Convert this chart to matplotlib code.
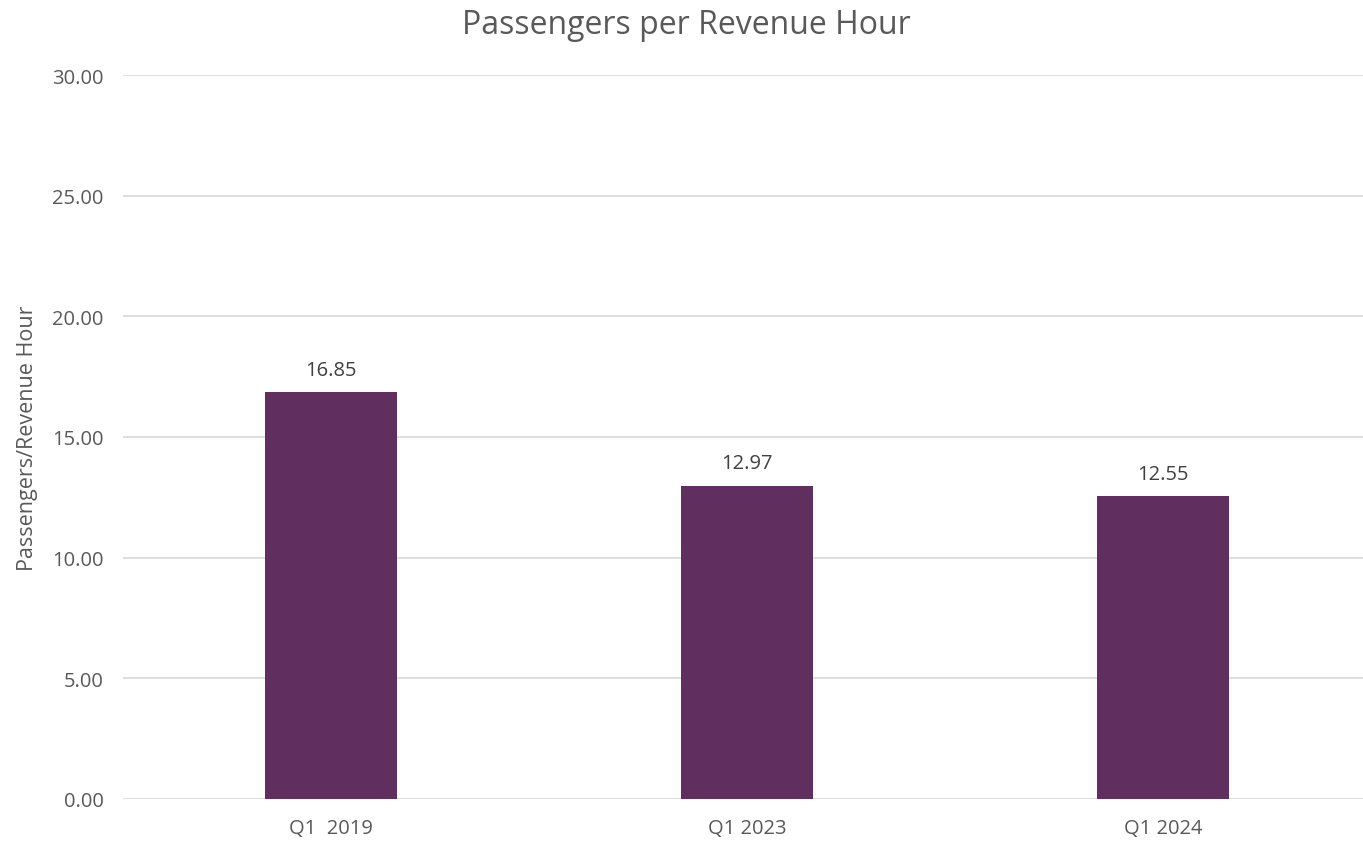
import matplotlib.pyplot as plt
import numpy as np

plt.rcParams['font.family'] = ['Open Sans', 'DejaVu Sans']

quarters = ["Q1  2019", "Q1 2023", "Q1 2024"]
pax_per_hour = [16.85, 12.97, 12.55]

text_col = "#595959"
bar_col = "#612F5F"

fig = plt.figure(figsize=(13.63, 8.45), dpi=100)
ax = fig.add_axes([123 / 1363, 1 - 800 / 845, 1248 / 1363, 724 / 845])

x = np.arange(len(quarters))
bars = ax.bar(x, pax_per_hour, width=0.315, color=bar_col, zorder=3)
for b, v in zip(bars, pax_per_hour):
    ax.annotate(f"{v:.2f}", (b.get_x() + b.get_width() / 2, v),
                xytext=(0, 9), textcoords="offset points",
                ha="center", va="bottom", fontsize=14.5, color="#404040")

ax.set_xlim(-0.5, 2.5)
ax.set_ylim(0, 30)
ax.set_yticks(np.arange(0, 31, 5))
ax.set_yticklabels([f"{t:.2f}" for t in np.arange(0, 31, 5)])
ax.set_xticks(x)
ax.set_xticklabels(quarters)
ax.tick_params(length=0, labelsize=14.5, labelcolor=text_col)
ax.tick_params(axis="x", pad=14)
ax.tick_params(axis="y", pad=14)
ax.grid(axis="y", color="#D9D9D9", linewidth=1.2, zorder=0)
for s in ax.spines.values():
    s.set_visible(False)

ax.set_ylabel("Passengers/Revenue Hour", fontsize=15.5, color=text_col, labelpad=10)
fig.text(686 / 1363, 1 - 25 / 845, "Passengers per Revenue Hour",
         ha="center", va="center", fontsize=23, color=text_col)

fig.savefig("out.png", dpi=100)
